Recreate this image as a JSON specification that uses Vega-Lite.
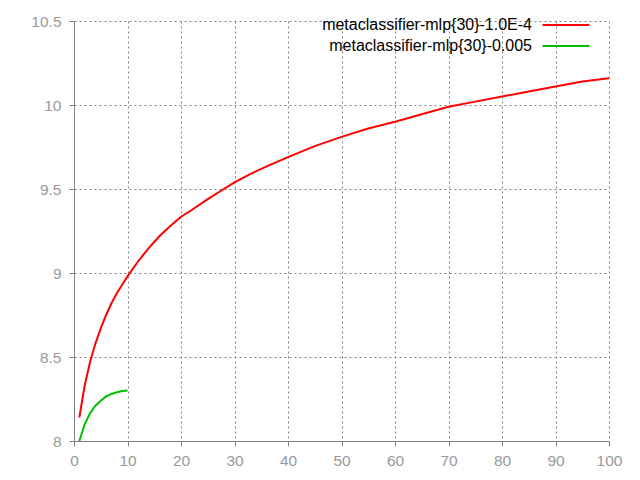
{
  "$schema": "https://vega.github.io/schema/vega-lite/v6.json",
  "width": 535,
  "height": 420,
  "autosize": "none",
  "padding": {"left": 74, "top": 21, "right": 31, "bottom": 39},
  "background": "white",
  "config": {
    "font": "Liberation Sans",
    "view": {"stroke": null},
    "axis": {
      "labelFont": "Liberation Sans",
      "labelFontSize": 15.5,
      "labelColor": "#999999",
      "domainColor": "#808080",
      "domainWidth": 1,
      "tickColor": "#808080",
      "gridColor": "#808080",
      "gridDash": [2, 3],
      "gridWidth": 1,
      "gridOpacity": 1,
      "title": null
    }
  },
  "data": {
    "values": [
      {"s": "metaclassifier-mlp{30}-1.0E-4", "x": 1, "y": 8.14},
      {"s": "metaclassifier-mlp{30}-1.0E-4", "x": 2, "y": 8.33},
      {"s": "metaclassifier-mlp{30}-1.0E-4", "x": 3, "y": 8.47},
      {"s": "metaclassifier-mlp{30}-1.0E-4", "x": 4, "y": 8.58},
      {"s": "metaclassifier-mlp{30}-1.0E-4", "x": 5, "y": 8.67},
      {"s": "metaclassifier-mlp{30}-1.0E-4", "x": 6, "y": 8.75},
      {"s": "metaclassifier-mlp{30}-1.0E-4", "x": 7, "y": 8.82},
      {"s": "metaclassifier-mlp{30}-1.0E-4", "x": 8, "y": 8.88},
      {"s": "metaclassifier-mlp{30}-1.0E-4", "x": 9, "y": 8.93},
      {"s": "metaclassifier-mlp{30}-1.0E-4", "x": 10, "y": 8.98},
      {"s": "metaclassifier-mlp{30}-1.0E-4", "x": 12, "y": 9.07},
      {"s": "metaclassifier-mlp{30}-1.0E-4", "x": 14, "y": 9.15},
      {"s": "metaclassifier-mlp{30}-1.0E-4", "x": 16, "y": 9.22},
      {"s": "metaclassifier-mlp{30}-1.0E-4", "x": 18, "y": 9.28},
      {"s": "metaclassifier-mlp{30}-1.0E-4", "x": 20, "y": 9.335},
      {"s": "metaclassifier-mlp{30}-1.0E-4", "x": 22, "y": 9.375},
      {"s": "metaclassifier-mlp{30}-1.0E-4", "x": 25, "y": 9.44},
      {"s": "metaclassifier-mlp{30}-1.0E-4", "x": 28, "y": 9.5},
      {"s": "metaclassifier-mlp{30}-1.0E-4", "x": 30, "y": 9.54},
      {"s": "metaclassifier-mlp{30}-1.0E-4", "x": 33, "y": 9.59},
      {"s": "metaclassifier-mlp{30}-1.0E-4", "x": 36, "y": 9.635},
      {"s": "metaclassifier-mlp{30}-1.0E-4", "x": 40, "y": 9.69},
      {"s": "metaclassifier-mlp{30}-1.0E-4", "x": 45, "y": 9.755},
      {"s": "metaclassifier-mlp{30}-1.0E-4", "x": 50, "y": 9.81},
      {"s": "metaclassifier-mlp{30}-1.0E-4", "x": 55, "y": 9.86},
      {"s": "metaclassifier-mlp{30}-1.0E-4", "x": 60, "y": 9.9},
      {"s": "metaclassifier-mlp{30}-1.0E-4", "x": 65, "y": 9.945},
      {"s": "metaclassifier-mlp{30}-1.0E-4", "x": 70, "y": 9.99},
      {"s": "metaclassifier-mlp{30}-1.0E-4", "x": 75, "y": 10.02},
      {"s": "metaclassifier-mlp{30}-1.0E-4", "x": 80, "y": 10.05},
      {"s": "metaclassifier-mlp{30}-1.0E-4", "x": 85, "y": 10.08},
      {"s": "metaclassifier-mlp{30}-1.0E-4", "x": 90, "y": 10.11},
      {"s": "metaclassifier-mlp{30}-1.0E-4", "x": 95, "y": 10.14},
      {"s": "metaclassifier-mlp{30}-1.0E-4", "x": 100, "y": 10.16},
      {"s": "metaclassifier-mlp{30}-0.005", "x": 1, "y": 8.0},
      {"s": "metaclassifier-mlp{30}-0.005", "x": 2, "y": 8.1},
      {"s": "metaclassifier-mlp{30}-0.005", "x": 3, "y": 8.165},
      {"s": "metaclassifier-mlp{30}-0.005", "x": 4, "y": 8.21},
      {"s": "metaclassifier-mlp{30}-0.005", "x": 5, "y": 8.24},
      {"s": "metaclassifier-mlp{30}-0.005", "x": 6, "y": 8.265},
      {"s": "metaclassifier-mlp{30}-0.005", "x": 7, "y": 8.28},
      {"s": "metaclassifier-mlp{30}-0.005", "x": 8, "y": 8.29},
      {"s": "metaclassifier-mlp{30}-0.005", "x": 9, "y": 8.297},
      {"s": "metaclassifier-mlp{30}-0.005", "x": 10, "y": 8.3}
    ]
  },
  "mark": {"type": "line", "strokeWidth": 2, "interpolate": "linear", "clip": true},
  "encoding": {
    "x": {
      "field": "x", "type": "quantitative",
      "scale": {"domain": [0, 100], "nice": false, "zero": false},
      "axis": {"values": [0, 10, 20, 30, 40, 50, 60, 70, 80, 90, 100], "tickSize": 5, "labelPadding": 7, "labelFlush": false}
    },
    "y": {
      "field": "y", "type": "quantitative",
      "scale": {"domain": [8, 10.5], "nice": false, "zero": false},
      "axis": {"values": [8, 8.5, 9, 9.5, 10, 10.5], "format": "~g", "tickSize": 5, "labelPadding": 8, "labelFlush": false}
    },
    "color": {
      "field": "s", "type": "nominal",
      "sort": ["metaclassifier-mlp{30}-1.0E-4", "metaclassifier-mlp{30}-0.005"],
      "scale": {"domain": ["metaclassifier-mlp{30}-1.0E-4", "metaclassifier-mlp{30}-0.005"], "range": ["#ff0000", "#00c000"]},
      "legend": {
        "orient": "none",
        "legendX": 479,
        "legendY": -9,
        "title": null,
        "symbolType": "M-2,0H2",
        "symbolSize": 552,
        "symbolStrokeWidth": 2,
        "labelAlign": "right",
        "labelOffset": -47,
        "labelFontSize": 16,
        "labelColor": "#000000",
        "labelFont": "Liberation Sans",
        "labelLimit": 400,
        "rowPadding": -6
      }
    }
  }
}
